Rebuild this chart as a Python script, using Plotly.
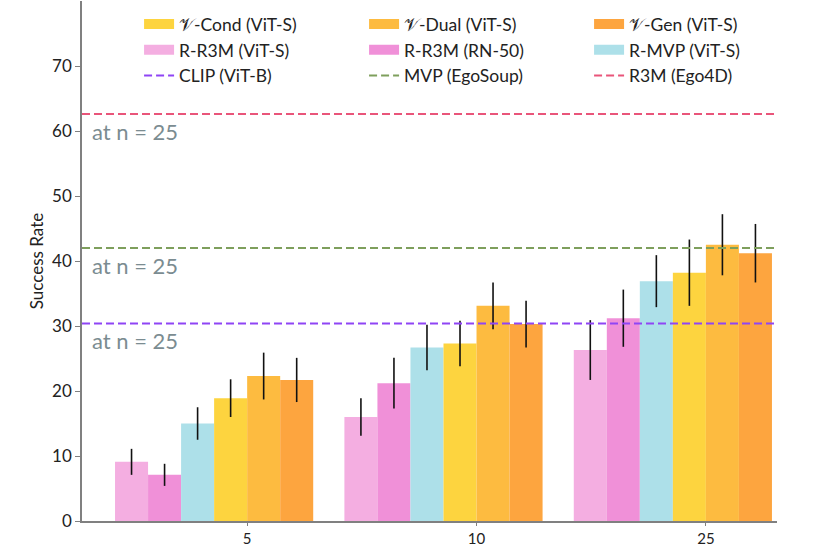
import plotly.graph_objects as go

categories = ["5", "10", "25"]

series_names = ["R-R3M (ViT-S)", "R-R3M (RN-50)", "R-MVP (ViT-S)",
                "𝒱-Cond (ViT-S)", "𝒱-Dual (ViT-S)", "𝒱-Gen (ViT-S)"]
r_r3m_vits = [9.1, 16.0, 26.3]
r_r3m_rn50 = [7.1, 21.2, 31.2]
r_mvp_vits = [15.0, 26.7, 36.9]
v_cond = [18.9, 27.3, 38.2]
v_dual = [22.3, 33.1, 42.5]
v_gen = [21.7, 30.3, 41.2]

err_r_r3m_vits = [2.0, 2.9, 4.6]
err_r_r3m_rn50 = [1.7, 3.9, 4.4]
err_r_mvp_vits = [2.5, 3.5, 4.0]
err_v_cond = [2.9, 3.5, 5.1]
err_v_dual = [3.6, 3.6, 4.7]
err_v_gen = [3.4, 3.6, 4.5]

baseline_names = ["CLIP (ViT-B)", "MVP (EgoSoup)", "R3M (Ego4D)"]
baseline_values = [30.4, 42.0, 62.6]
baseline_note = "at n = 25"

values = [r_r3m_vits, r_r3m_rn50, r_mvp_vits, v_cond, v_dual, v_gen]
errors = [err_r_r3m_vits, err_r_r3m_rn50, err_r_mvp_vits, err_v_cond, err_v_dual, err_v_gen]
colors = ["#F4AEE1", "#F090D8", "#ADE0E9", "#FDD43F", "#FDBB40", "#FDA53F"]
# legend rank: matplotlib column-wise fill emulated row-wise
ranks = [4, 5, 6, 1, 2, 3]
baseline_colors = ["#8F45F5", "#7E9F5C", "#E9557A"]
baseline_ranks = [7, 8, 9]

FONT = "Lato, 'Open Sans', sans-serif"
bw = 0.144
xpos = list(range(len(categories)))

fig = go.Figure()
for i, (name, vals, errs, col, rk) in enumerate(zip(series_names, values, errors, colors, ranks)):
    fig.add_trace(go.Bar(
        x=xpos, y=vals, name=name, showlegend=False,
        marker=dict(color=col, line=dict(width=0)),
        width=bw, offset=(-4 + i) * bw,
        error_y=dict(type="data", array=errs, visible=True, color="#111111",
                     thickness=1.6, width=0),
    ))
    # legend-only entry with a wide swatch
    fig.add_trace(go.Scatter(
        x=[None], y=[None], mode="lines", name=name, legendrank=rk,
        line=dict(color=col, width=13), showlegend=True,
    ))

for name, val, col, rk in zip(baseline_names, baseline_values, baseline_colors, baseline_ranks):
    fig.add_shape(type="line", xref="paper", x0=0, x1=1, yref="y", y0=val, y1=val,
                  line=dict(color=col, width=2, dash="8px,4px"),
                  showlegend=True, name=name, legendrank=rk, layer="above")
    fig.add_annotation(xref="paper", x=0.012, yref="y", y=val, xanchor="left",
                       yanchor="top", yshift=-2, text=baseline_note, showarrow=False,
                       font=dict(family=FONT, size=22, color="#7B8C91"))

fig.update_layout(
    width=815, height=547,
    margin=dict(l=82, r=37, t=1, b=26),
    plot_bgcolor="white", paper_bgcolor="white",
    barmode="overlay",
    font=dict(family=FONT, size=16, color="#222222"),
    showlegend=True,
    legend=dict(orientation="h", x=0.082, y=0.99, xanchor="left", yanchor="top",
                entrywidth=180, entrywidthmode="pixels", bgcolor="rgba(0,0,0,0)",
                font=dict(family=FONT, size=17.5, color="#222222"),
                tracegroupgap=0, traceorder="normal"),
)
fig.update_xaxes(
    tickmode="array", tickvals=xpos, ticktext=categories, automargin=False,
    range=[-0.72, 2.31], showline=True, linecolor="#808080", linewidth=1.5,
    ticks="outside", ticklen=3, tickcolor="#808080", showgrid=False, zeroline=False,
    tickfont=dict(family=FONT, size=15, color="#222222"),
)
fig.update_yaxes(
    range=[0, 80], tickmode="array", tickvals=[0, 10, 20, 30, 40, 50, 60, 70],
    showline=True, linecolor="#808080", linewidth=1.5, automargin=False,
    ticks="outside", ticklen=5, tickcolor="#808080", showgrid=False, zeroline=False,
    tickfont=dict(family=FONT, size=17, color="#222222"),
    title=dict(text="Success Rate", font=dict(family=FONT, size=17, color="#222222"), standoff=4),
)

fig.write_html("out.html", config={"displayModeBar": False},
               post_script="document.body.style.margin='0';document.body.style.overflow='hidden';")
